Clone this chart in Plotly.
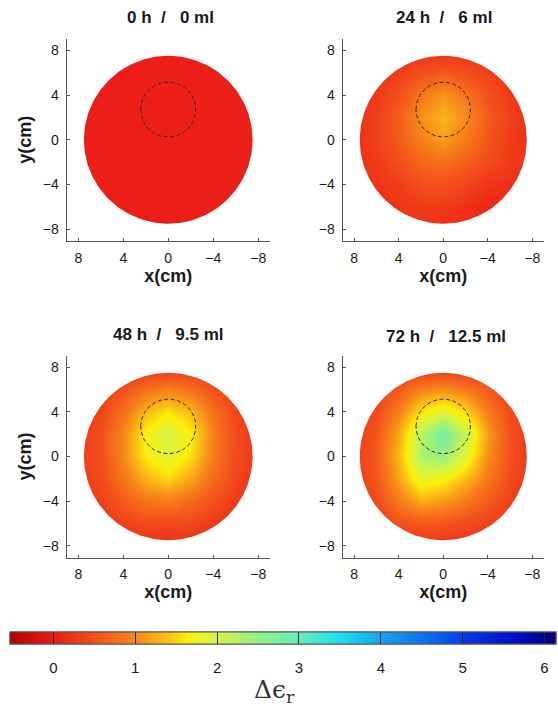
import numpy as np
import plotly.graph_objects as go

# ---------------- data ----------------
NB = "\u00a0"
panel_titles = [f"0 h{NB*2}/{NB*3}0 ml", f"24 h{NB*2}/{NB*3}6 ml",
                f"48 h{NB*2}/{NB*3}9.5 ml", f"72 h{NB*2}/{NB*3}12.5 ml"]

# grid nodes (cm); columns run x = 8 .. -8 (left -> right in picture), rows y = 8 .. -8 (top -> bottom)
x_nodes = [8, 6, 4, 2, 0, -2, -4, -6, -8]
y_nodes = [8, 6, 4, 2, 0, -2, -4, -6, -8]

z_0h = [
    [0.05, 0.05, 0.05, 0.05, 0.05, 0.05, 0.05, 0.05, 0.05],
    [0.05, 0.05, 0.05, 0.05, 0.05, 0.05, 0.05, 0.05, 0.05],
    [0.05, 0.05, 0.05, 0.05, 0.05, 0.05, 0.05, 0.05, 0.05],
    [0.05, 0.05, 0.05, 0.05, 0.05, 0.05, 0.05, 0.05, 0.05],
    [0.05, 0.05, 0.05, 0.05, 0.05, 0.05, 0.05, 0.05, 0.05],
    [0.05, 0.05, 0.05, 0.05, 0.05, 0.05, 0.05, 0.05, 0.05],
    [0.05, 0.05, 0.05, 0.05, 0.05, 0.05, 0.05, 0.05, 0.05],
    [0.05, 0.05, 0.05, 0.05, 0.05, 0.05, 0.05, 0.05, 0.05],
    [0.05, 0.05, 0.05, 0.05, 0.05, 0.05, 0.05, 0.05, 0.05],
]
z_24h = [
    [0.20, 0.20, 0.20, 0.20, 0.20, 0.20, 0.20, 0.20, 0.20],
    [0.20, 0.25, 0.35, 0.50, 0.60, 0.50, 0.35, 0.25, 0.20],
    [0.20, 0.30, 0.50, 0.85, 1.10, 0.85, 0.50, 0.30, 0.20],
    [0.20, 0.35, 0.65, 1.05, 1.30, 1.05, 0.60, 0.35, 0.20],
    [0.20, 0.35, 0.60, 0.95, 1.15, 0.90, 0.55, 0.30, 0.20],
    [0.20, 0.30, 0.50, 0.70, 0.80, 0.65, 0.45, 0.30, 0.20],
    [0.20, 0.25, 0.35, 0.50, 0.50, 0.40, 0.25, 0.20, 0.20],
    [0.20, 0.20, 0.25, 0.30, 0.30, 0.20, 0.10, 0.15, 0.20],
    [0.20, 0.20, 0.20, 0.20, 0.20, 0.20, 0.20, 0.20, 0.20],
]
z_48h = [
    [0.20, 0.20, 0.20, 0.20, 0.20, 0.20, 0.20, 0.20, 0.20],
    [0.20, 0.30, 0.50, 0.80, 0.95, 0.80, 0.50, 0.30, 0.20],
    [0.25, 0.40, 0.80, 1.35, 1.60, 1.35, 0.80, 0.40, 0.25],
    [0.30, 0.50, 1.00, 1.70, 2.00, 1.65, 0.95, 0.45, 0.25],
    [0.30, 0.50, 1.00, 1.65, 1.90, 1.55, 0.90, 0.45, 0.25],
    [0.30, 0.45, 0.85, 1.30, 1.50, 1.20, 0.75, 0.40, 0.25],
    [0.25, 0.35, 0.60, 0.85, 0.90, 0.75, 0.50, 0.30, 0.20],
    [0.20, 0.25, 0.35, 0.45, 0.45, 0.40, 0.30, 0.20, 0.20],
    [0.20, 0.20, 0.20, 0.20, 0.20, 0.20, 0.20, 0.20, 0.20],
]
z_72h = [
    [0.20, 0.20, 0.20, 0.20, 0.20, 0.20, 0.20, 0.20, 0.20],
    [0.20, 0.30, 0.60, 0.95, 1.05, 0.90, 0.60, 0.30, 0.20],
    [0.25, 0.45, 0.95, 1.60, 1.90, 1.55, 0.90, 0.45, 0.25],
    [0.30, 0.55, 1.25, 2.20, 2.85, 2.10, 1.15, 0.50, 0.25],
    [0.30, 0.60, 1.35, 2.30, 2.50, 1.90, 1.05, 0.50, 0.25],
    [0.30, 0.55, 1.20, 1.85, 1.70, 1.35, 0.85, 0.45, 0.25],
    [0.25, 0.45, 0.90, 1.25, 1.15, 0.90, 0.60, 0.35, 0.20],
    [0.20, 0.30, 0.50, 0.60, 0.55, 0.45, 0.35, 0.25, 0.20],
    [0.20, 0.20, 0.20, 0.20, 0.20, 0.20, 0.20, 0.20, 0.20],
]
panel_z = [z_0h, z_24h, z_48h, z_72h]

axis_tick_vals = [8, 4, 0, -4, -8]
cbar_tick_vals = [0, 1, 2, 3, 4, 5, 6]
c_min, c_max = -0.53, 6.14

phantom_radius = 7.5
target_center = (0.0, 2.7)
target_radius = 2.45

# ---------------- style ----------------
color_stops = [
    (-0.53, "rgb(180,0,0)"), (0.0, "rgb(234,26,22)"), (0.5, "rgb(242,80,28)"),
    (1.0, "rgb(247,135,25)"), (1.4, "rgb(250,195,20)"), (1.65, "rgb(250,240,10)"),
    (2.0, "rgb(212,245,70)"), (2.5, "rgb(150,240,130)"), (3.0, "rgb(100,240,185)"),
    (3.5, "rgb(30,222,240)"), (4.0, "rgb(20,165,240)"), (4.5, "rgb(15,115,240)"),
    (5.0, "rgb(5,60,235)"), (5.6, "rgb(0,15,200)"), (6.14, "rgb(0,0,120)"),
]
colorscale = [[(v - c_min) / (c_max - c_min), c] for v, c in color_stops]
colorscale[0][0] = 0.0
colorscale[-1][0] = 1.0

W, H = 558, 709
col_px = [(66.5, 270.0), (342.5, 544.0)]
row_px = [(38.5, 241.0), (355.5, 557.5)]
title_px = [(170, 18), (444, 18), (168, 335), (446, 337)]
FONT = "Liberation Sans, Arial, sans-serif"
TXT = "#1a1a1a"
AX_RANGE = 9.05

CB_BASE = dict(
    orientation="h", lenmode="pixels", len=546, thickness=12,
    thicknessmode="pixels", x=283 / W, xanchor="center",
    y=1 - 632 / H, yanchor="top", xpad=0, ypad=0,
    outlinewidth=1, outlinecolor="#555", tickvals=cbar_tick_vals,
)
# colorbar carrying the labels (transparent outside ticks push labels down)
cb_labels = dict(CB_BASE, ticks="outside", ticklen=11, tickcolor="rgba(0,0,0,0)",
                 tickfont=dict(family=FONT, size=15, color=TXT))
# colorbar carrying the dark inside tick marks, drawn on top
cb_marks = dict(CB_BASE, ticks="inside", ticklen=12, tickwidth=1, tickcolor="#222",
                showticklabels=False)

fig = go.Figure()

# white mask: plot area minus the disc (keyhole polygon)
ang = np.linspace(0, -2 * np.pi, 241)
R_out = 10.0
mask_x = [R_out, R_out, -R_out, -R_out, R_out, R_out] + list(phantom_radius * np.cos(ang)) + [R_out]
mask_y = [0, R_out, R_out, -R_out, -R_out, 0] + list(phantom_radius * np.sin(ang)) + [0]

for i in range(4):
    r, c = divmod(i, 2)
    xa = "x" if i == 0 else f"x{i+1}"
    ya = "y" if i == 0 else f"y{i+1}"
    hm = dict(
        x=x_nodes, y=y_nodes, z=panel_z[i], zmin=c_min, zmax=c_max,
        colorscale=colorscale, zsmooth="best", xaxis=xa, yaxis=ya,
        showscale=(i in (0, 1)), hoverinfo="skip",
    )
    if i == 0:
        hm["colorbar"] = cb_labels
    elif i == 1:
        hm["colorbar"] = cb_marks
    fig.add_trace(go.Heatmap(**hm))
    fig.add_trace(go.Scatter(
        x=mask_x, y=mask_y, mode="lines", fill="toself", fillcolor="white",
        line=dict(width=0, color="white"), xaxis=xa, yaxis=ya,
        showlegend=False, hoverinfo="skip",
    ))
    tt = np.linspace(0, 2 * np.pi, 181)
    tx = target_center[0] + target_radius * np.cos(tt)
    ty = target_center[1] + target_radius * np.sin(tt)
    fig.add_trace(go.Scatter(
        x=tx, y=ty, mode="lines", line=dict(color="#2a2a2a", width=1, dash="4px,2.5px"),
        xaxis=xa, yaxis=ya, showlegend=False, hoverinfo="skip",
    ))

    axcommon = dict(
        showline=True, linecolor="#555", linewidth=1, ticks="inside", ticklen=3,
        tickcolor="#555", showgrid=False, zeroline=False, mirror=False,
        tickfont=dict(family=FONT, size=14, color=TXT),
    )
    x0, x1 = col_px[c]
    y0, y1 = row_px[r]
    xkey = "xaxis" if i == 0 else f"xaxis{i+1}"
    ykey = "yaxis" if i == 0 else f"yaxis{i+1}"
    fig.layout[xkey] = dict(
        axcommon, domain=[x0 / W, x1 / W], range=[AX_RANGE, -AX_RANGE],
        tickvals=axis_tick_vals, anchor=ya, ticklabelstandoff=4,
        title=dict(text="<b>x(cm)</b>", font=dict(family=FONT, size=18, color=TXT), standoff=4),
    )
    ydict = dict(
        axcommon, domain=[1 - y1 / H, 1 - y0 / H], range=[-AX_RANGE, AX_RANGE],
        tickvals=axis_tick_vals, anchor=xa, ticklabelstandoff=4,
    )
    if c == 0:
        ydict["title"] = dict(text="<b>y(cm)</b>", font=dict(family=FONT, size=18, color=TXT), standoff=6)
    fig.layout[ykey] = ydict

    tpx, tpy = title_px[i]
    fig.add_annotation(
        text=f"<b>{panel_titles[i]}</b>", x=tpx / W, y=1 - tpy / H, xref="paper", yref="paper",
        xanchor="center", yanchor="middle", showarrow=False,
        font=dict(family=FONT, size=17, color=TXT),
    )

fig.add_annotation(
    text="\u0394\u03f5<sub>r</sub>", x=274 / W, y=1 - 691 / H, xref="paper", yref="paper",
    xanchor="center", yanchor="middle", showarrow=False,
    font=dict(family="DejaVu Serif, Liberation Serif, serif", size=25, color="#333"),
)

fig.update_layout(
    width=W, height=H, margin=dict(l=0, r=0, t=0, b=0),
    paper_bgcolor="white", plot_bgcolor="white", showlegend=False,
)

fig.write_html("out.html", config={"displayModeBar": False},
               post_script="document.body.style.margin='0';")
